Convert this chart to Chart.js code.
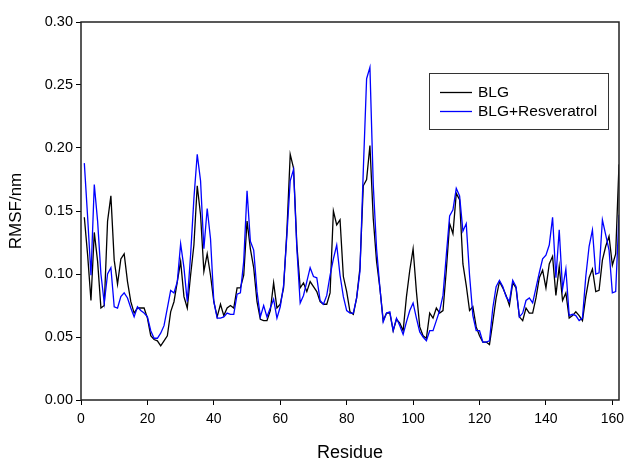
<!DOCTYPE html>
<html>
<head>
<meta charset="utf-8">
<script src="https://cdn.jsdelivr.net/npm/chart.js@4.4.1/dist/chart.umd.min.js"></script>
<style>
  html, body { margin: 0; padding: 0; background: #fff; }
  #wrap { width: 625px; height: 459px; }
</style>
</head>
<body>
<div id="wrap"><canvas id="myChart" width="625" height="459"></canvas></div>
<script>
// residue 1..162
const firstResidue = 1;
const blg = [
  0.145, 0.115, 0.079, 0.133, 0.110, 0.073, 0.075, 0.142, 0.162, 0.111,
  0.092, 0.112, 0.116, 0.094, 0.078, 0.069, 0.073, 0.073, 0.073, 0.065,
  0.051, 0.048, 0.047, 0.043, 0.047, 0.051, 0.070, 0.078, 0.094, 0.110,
  0.082, 0.073, 0.099, 0.123, 0.170, 0.147, 0.102, 0.116, 0.099, 0.078,
  0.066, 0.076, 0.067, 0.073, 0.075, 0.073, 0.089, 0.089, 0.099, 0.142,
  0.120, 0.105, 0.078, 0.064, 0.063, 0.063, 0.071, 0.093, 0.073, 0.076,
  0.089, 0.134, 0.195, 0.184, 0.123, 0.089, 0.093, 0.086, 0.094, 0.090,
  0.086, 0.078, 0.076, 0.076, 0.085, 0.150, 0.139, 0.143, 0.098, 0.086,
  0.070, 0.068, 0.081, 0.105, 0.170, 0.175, 0.202, 0.144, 0.110, 0.089,
  0.063, 0.069, 0.069, 0.055, 0.064, 0.061, 0.055, 0.082, 0.103, 0.120,
  0.086, 0.058, 0.051, 0.049, 0.069, 0.065, 0.073, 0.069, 0.071, 0.103,
  0.140, 0.132, 0.164, 0.159, 0.108, 0.091, 0.071, 0.074, 0.058, 0.051,
  0.046, 0.046, 0.044, 0.062, 0.081, 0.094, 0.089, 0.083, 0.075, 0.093,
  0.089, 0.066, 0.063, 0.073, 0.069, 0.069, 0.081, 0.097, 0.103, 0.089,
  0.108, 0.114, 0.083, 0.106, 0.079, 0.085, 0.065, 0.067, 0.070, 0.067,
  0.063, 0.082, 0.097, 0.104, 0.086, 0.087, 0.111, 0.122, 0.130, 0.107,
  0.116, 0.187
];
const blgRes = [
  0.188, 0.145, 0.099, 0.171, 0.142, 0.100, 0.077, 0.100, 0.105, 0.074,
  0.073, 0.082, 0.085, 0.081, 0.073, 0.066, 0.074, 0.071, 0.069, 0.066,
  0.055, 0.049, 0.049, 0.053, 0.059, 0.073, 0.087, 0.085, 0.094, 0.124,
  0.105, 0.078, 0.115, 0.160, 0.195, 0.174, 0.120, 0.152, 0.128, 0.078,
  0.065, 0.065, 0.066, 0.069, 0.068, 0.068, 0.084, 0.085, 0.110, 0.166,
  0.126, 0.119, 0.086, 0.066, 0.075, 0.066, 0.073, 0.080, 0.065, 0.074,
  0.091, 0.131, 0.174, 0.183, 0.120, 0.077, 0.083, 0.094, 0.105, 0.098,
  0.097, 0.079, 0.076, 0.083, 0.099, 0.112, 0.123, 0.099, 0.082, 0.071,
  0.069, 0.069, 0.081, 0.102, 0.182, 0.255, 0.264, 0.171, 0.120, 0.089,
  0.062, 0.069, 0.070, 0.055, 0.065, 0.059, 0.052, 0.062, 0.071, 0.077,
  0.065, 0.054, 0.050, 0.047, 0.055, 0.055, 0.063, 0.071, 0.083, 0.115,
  0.146, 0.151, 0.168, 0.162, 0.134, 0.140, 0.099, 0.067, 0.055, 0.055,
  0.046, 0.046, 0.047, 0.073, 0.090, 0.095, 0.090, 0.082, 0.078, 0.095,
  0.090, 0.066, 0.069, 0.079, 0.081, 0.077, 0.089, 0.101, 0.112, 0.115,
  0.123, 0.145, 0.097, 0.135, 0.088, 0.104, 0.067, 0.068, 0.067, 0.063,
  0.065, 0.098, 0.122, 0.135, 0.100, 0.101, 0.143, 0.131, 0.119, 0.085,
  0.086, 0.147
];
const seriesNames = ['BLG', 'BLG+Resveratrol'];
const seriesColors = ['#000000', '#0000ff'];

const toPoints = arr => arr.map((v, i) => ({x: firstResidue + i, y: v}));
const fontFamily = '"Liberation Sans", Arial, sans-serif';

// box round the plot + legend inside
const framePlugin = {
  id: 'frame',
  afterDatasetsDraw(chart) {
    const {ctx, chartArea: a} = chart;
    ctx.save();
    ctx.strokeStyle = '#222';
    ctx.lineWidth = 1.5;
    ctx.strokeRect(a.left, a.top, a.right - a.left, a.bottom - a.top);

    // legend box
    const bx = 429, by = 73, bw = 179, bh = 56;
    ctx.lineWidth = 1;
    ctx.strokeStyle = '#333';
    ctx.fillStyle = '#fff';
    ctx.fillRect(bx, by, bw, bh);
    ctx.strokeRect(bx + 0.5, by + 0.5, bw, bh);
    ctx.font = '15.5px ' + fontFamily;
    ctx.textBaseline = 'middle';
    seriesNames.forEach((name, i) => {
      const y = by + 19.5 + i * 19;
      ctx.strokeStyle = seriesColors[i];
      ctx.lineWidth = 1.3;
      ctx.beginPath();
      ctx.moveTo(bx + 11, y);
      ctx.lineTo(bx + 43, y);
      ctx.stroke();
      ctx.fillStyle = '#000';
      ctx.fillText(name, bx + 49, y);
    });
    ctx.restore();
  }
};

const ctx = document.getElementById('myChart').getContext('2d');
const myChart = new Chart(ctx, {
  type: 'line',
  data: {
    datasets: [
      {label: seriesNames[0], data: toPoints(blg), borderColor: seriesColors[0], borderWidth: 1.3, order: 2},
      {label: seriesNames[1], data: toPoints(blgRes), borderColor: seriesColors[1], borderWidth: 1.3, order: 1}
    ]
  },
  options: {
    responsive: false,
    devicePixelRatio: 1,
    animation: false,
    elements: { point: { radius: 0 }, line: { tension: 0 } },
    layout: { padding: { left: 0, right: 6, top: 22, bottom: 0 } },
    plugins: { legend: { display: false }, tooltip: { enabled: false } },
    scales: {
      x: {
        type: 'linear',
        min: 0,
        max: 162,
        afterBuildTicks: s => { s.ticks = [0, 20, 40, 60, 80, 100, 120, 140, 160].map(v => ({value: v})); },
        afterFit: s => { s.height = 59; s.paddingLeft = 0; s.paddingRight = 0; },
        grid: { drawOnChartArea: false, drawTicks: true, tickLength: 5, color: '#000' },
        border: { display: false },
        ticks: { color: '#000', padding: 6, maxRotation: 0, font: { family: fontFamily, size: 14 } },
        title: { display: true, text: 'Residue', color: '#000', padding: { top: 0, bottom: -5 }, font: { family: fontFamily, size: 18 } }
      },
      y: {
        min: 0,
        max: 0.30,
        afterBuildTicks: s => { s.ticks = [0, 0.05, 0.10, 0.15, 0.20, 0.25, 0.30].map(v => ({value: v})); },
        afterFit: s => { s.width = 81; s.paddingTop = 0; s.paddingBottom = 0; },
        grid: { drawOnChartArea: false, drawTicks: true, tickLength: 5, color: '#000' },
        border: { display: false },
        ticks: { color: '#000', padding: 3, callback: v => v.toFixed(2), font: { family: fontFamily, size: 14.5 } },
        title: { display: true, text: 'RMSF/nm', color: '#000', padding: { top: 6, bottom: 0 }, font: { family: fontFamily, size: 17 } }
      }
    }
  },
  plugins: [framePlugin]
});
</script>
</body>
</html>
